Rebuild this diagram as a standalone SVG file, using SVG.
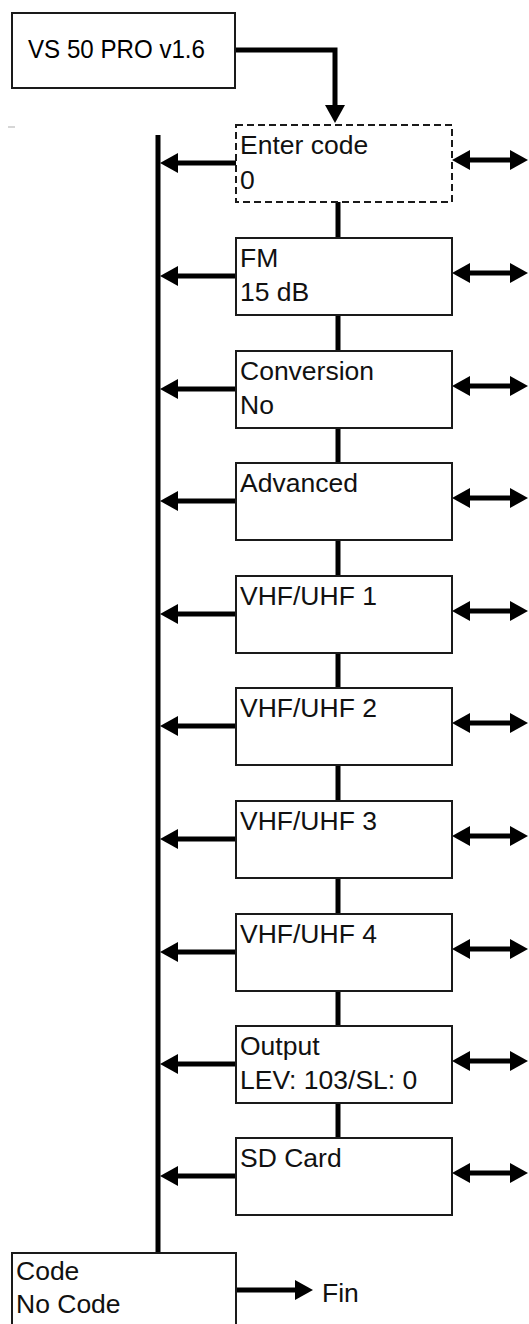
<svg xmlns="http://www.w3.org/2000/svg" width="529" height="1324" viewBox="0 0 529 1324">
<style>
.box{fill:#fff;stroke:#1a1a1a;stroke-width:2}
.dash{fill:#fff;stroke:#1a1a1a;stroke-width:2;stroke-dasharray:7 4}
.t{font-family:"Liberation Sans",Arial,sans-serif;font-size:26.5px;fill:#111}
.tt{font-family:"Liberation Sans",Arial,sans-serif;font-size:25px;fill:#000}
.ln{fill:none;stroke:#000;stroke-width:5}
.arr{fill:none;stroke:#000;stroke-width:5;marker-end:url(#ah)}
.dbl{fill:none;stroke:#000;stroke-width:5;marker-start:url(#ah);marker-end:url(#ah)}
</style>
<defs>
<marker id="ah" markerUnits="userSpaceOnUse" markerWidth="18" markerHeight="20" viewBox="0 0 18 20" refX="2" refY="10" orient="auto-start-reverse">
<path d="M0,0 L18,10 L0,20 z" fill="#000"/>
</marker>
</defs>
<line x1="8" y1="127" x2="15" y2="127" stroke="#c8c8c8" stroke-width="1.5"/>
<g id="connectors">
<path class="arr" d="M235 50 H335 V107"/>
<line class="ln" x1="158" y1="135" x2="158" y2="1253"/>
<line class="ln" x1="338" y1="202" x2="338" y2="238"/>
<line class="ln" x1="338" y1="315" x2="338" y2="351"/>
<line class="ln" x1="338" y1="428" x2="338" y2="463"/>
<line class="ln" x1="338" y1="540" x2="338" y2="576"/>
<line class="ln" x1="338" y1="653" x2="338" y2="688"/>
<line class="ln" x1="338" y1="765" x2="338" y2="801"/>
<line class="ln" x1="338" y1="878" x2="338" y2="914"/>
<line class="ln" x1="338" y1="991" x2="338" y2="1026"/>
<line class="ln" x1="338" y1="1103" x2="338" y2="1138"/>
<path class="arr" d="M236 163 H176"/>
<path class="arr" d="M236 276 H176"/>
<path class="arr" d="M236 389 H176"/>
<path class="arr" d="M236 501 H176"/>
<path class="arr" d="M236 614 H176"/>
<path class="arr" d="M236 726 H176"/>
<path class="arr" d="M236 839 H176"/>
<path class="arr" d="M236 952 H176"/>
<path class="arr" d="M236 1064 H176"/>
<path class="arr" d="M236 1176 H176"/>
<path class="dbl" d="M468 160 H512"/>
<path class="dbl" d="M468 273 H512"/>
<path class="dbl" d="M468 386 H512"/>
<path class="dbl" d="M468 498 H512"/>
<path class="dbl" d="M468 611 H512"/>
<path class="dbl" d="M468 723 H512"/>
<path class="dbl" d="M468 836 H512"/>
<path class="dbl" d="M468 949 H512"/>
<path class="dbl" d="M468 1061 H512"/>
<path class="dbl" d="M468 1173 H512"/>
<path class="arr" d="M236 1290 H297"/>
</g>
<g id="n-title">
<rect class="box" x="12" y="13" width="223" height="75"/>
<text class="tt" x="28" y="58" textLength="177" lengthAdjust="spacingAndGlyphs">VS 50 PRO v1.6</text>
</g>
<g id="n-enter">
<rect class="dash" x="236" y="125" width="216" height="77"/>
<text class="t" x="240" y="154">Enter code</text>
<text class="t" x="240" y="189">0</text>
</g>
<g id="n-fm">
<rect class="box" x="236" y="238" width="216" height="77"/>
<text class="t" x="240" y="267">FM</text>
<text class="t" x="240" y="301">15 dB</text>
</g>
<g id="n-conv">
<rect class="box" x="236" y="351" width="216" height="77"/>
<text class="t" x="240" y="380">Conversion</text>
<text class="t" x="240" y="414">No</text>
</g>
<g id="n-adv">
<rect class="box" x="236" y="463" width="216" height="77"/>
<text class="t" x="240" y="492">Advanced</text>
</g>
<g id="n-vhf1">
<rect class="box" x="236" y="576" width="216" height="77"/>
<text class="t" x="240" y="605">VHF/UHF 1</text>
</g>
<g id="n-vhf2">
<rect class="box" x="236" y="688" width="216" height="77"/>
<text class="t" x="240" y="717">VHF/UHF 2</text>
</g>
<g id="n-vhf3">
<rect class="box" x="236" y="801" width="216" height="77"/>
<text class="t" x="240" y="830">VHF/UHF 3</text>
</g>
<g id="n-vhf4">
<rect class="box" x="236" y="914" width="216" height="77"/>
<text class="t" x="240" y="943">VHF/UHF 4</text>
</g>
<g id="n-output">
<rect class="box" x="236" y="1026" width="216" height="77"/>
<text class="t" x="240" y="1055">Output</text>
<text class="t" x="240" y="1089">LEV: 103/SL: 0</text>
</g>
<g id="n-sd">
<rect class="box" x="236" y="1138" width="216" height="77"/>
<text class="t" x="240" y="1167">SD Card</text>
</g>
<g id="n-code">
<rect class="box" x="12" y="1253" width="224" height="90"/>
<text class="t" x="16" y="1280">Code</text>
<text class="t" x="16" y="1313">No Code</text>
</g>
<g id="n-fin">
<text class="t" x="322" y="1302">Fin</text>
</g>
</svg>
